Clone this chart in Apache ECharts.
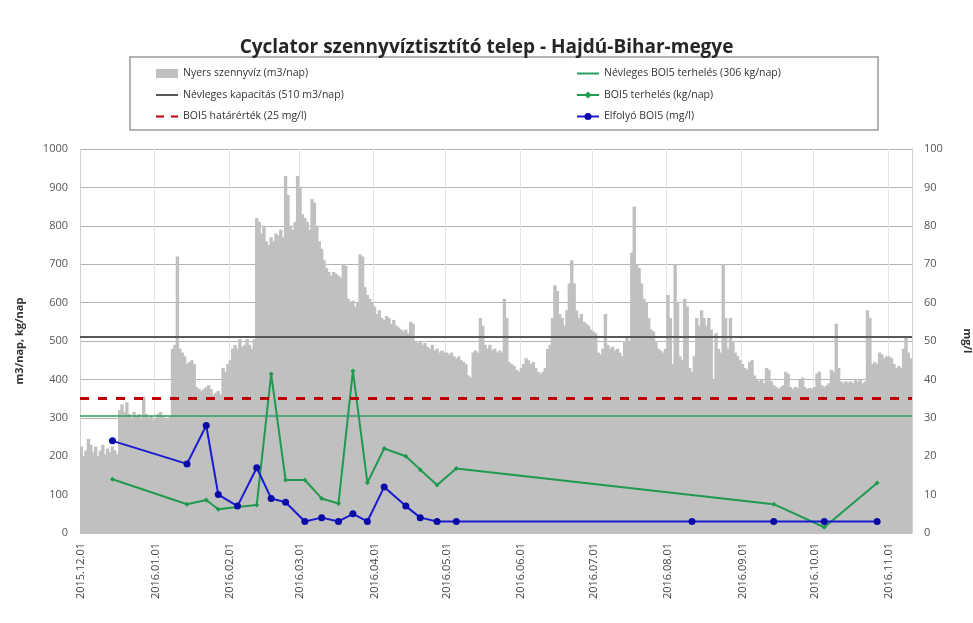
<!DOCTYPE html>
<html>
<head>
    <meta charset="UTF-8">
    <title>Cyclator szennyvíztisztító telep</title>
    <script src="https://cdn.jsdelivr.net/npm/echarts@6/dist/echarts.min.js"></script>
    <style>
        html, body { margin: 0; padding: 0; background: #fff; }
        #chart { width: 973px; height: 623px; }
    </style>
</head>
<body>
<div id="chart"></div>
<script type="text/javascript">
    // napi nyers szennyvíz (m3/nap), 2015.12.01 - 2016.11.10
    var dec = [225, 200, 215, 245, 230, 210, 225, 200, 215, 230, 205, 220, 210, 225, 215, 205,
        320, 335, 315, 340, 310, 300, 315, 305, 310, 300, 355, 310, 300, 305, 295];
    var jan = [300, 310, 315, 305, 300, 295, 305, 480, 490, 720, 480, 470, 460, 440, 445, 450,
        440, 380, 375, 370, 375, 380, 385, 375, 360, 365, 370, 360, 430, 420, 440];
    var feb = [450, 480, 490, 480, 505, 485, 490, 505, 490, 480, 505, 820, 810, 780, 800, 760,
        750, 770, 760, 780, 775, 790, 770, 930, 880, 800, 790, 810, 930];
    var mar = [900, 830, 820, 810, 790, 870, 860, 800, 760, 740, 710, 690, 680, 670, 680, 675,
        670, 665, 700, 695, 610, 600, 605, 590, 600, 725, 720, 640, 620, 610, 600];
    var apr = [590, 570, 580, 560, 555, 565, 560, 545, 555, 540, 535, 530, 525, 530, 520, 550,
        545, 500, 495, 500, 490, 495, 485, 480, 490, 475, 480, 470, 475, 470];
    var may = [470, 465, 470, 460, 455, 460, 450, 445, 440, 410, 405, 470, 475, 470, 560, 540,
        490, 480, 490, 475, 480, 470, 475, 470, 610, 560, 445, 440, 435, 425, 420];
    var jun = [430, 440, 455, 450, 440, 445, 430, 420, 415, 420, 430, 480, 490, 560, 645, 630,
        570, 560, 540, 580, 650, 710, 650, 580, 560, 570, 550, 545, 540, 530];
    var jul = [525, 520, 470, 465, 480, 570, 490, 480, 485, 475, 480, 470, 460, 500, 510, 500,
        730, 850, 700, 690, 650, 610, 600, 560, 530, 525, 500, 480, 475, 470, 480];
    var aug = [620, 560, 440, 700, 600, 460, 450, 610, 590, 430, 420, 460, 560, 540, 580, 560,
        540, 560, 530, 400, 520, 480, 470, 700, 560, 480, 560, 500, 470, 460, 450];
    var sep = [440, 430, 425, 445, 450, 410, 400, 395, 400, 390, 430, 425, 395, 385, 380, 375,
        380, 385, 420, 415, 380, 375, 380, 378, 400, 405, 380, 375, 378, 376];
    var oct = [380, 415, 420, 385, 380, 385, 390, 425, 420, 545, 430, 395, 390, 395, 392, 395,
        390, 398, 395, 400, 390, 395, 580, 560, 440, 445, 440, 470, 465, 455, 460];
    var nov = [460, 455, 440, 430, 435, 430, 480, 510, 470, 455];

    var nyersSzennyviz = [].concat(dec, jan, feb, mar, apr, may, jun, jul, aug, sep, oct, nov);

    // mérési napok
    var mintaNapok = ['2015-12-14', '2016-01-14', '2016-01-22', '2016-01-27', '2016-02-04', '2016-02-12',
        '2016-02-18', '2016-02-24', '2016-03-03', '2016-03-10', '2016-03-17', '2016-03-23', '2016-03-29',
        '2016-04-05', '2016-04-14', '2016-04-20', '2016-04-27', '2016-05-05', '2016-08-11', '2016-09-14',
        '2016-10-05', '2016-10-27'];
    var elfolyoBoi5 = [24, 18, 28, 10, 7, 17, 9, 8, 3, 4, 3, 5, 3, 12, 7, 4, 3, 3, 3, 3, 3, 3];

    var terhelesNapok = ['2015-12-14', '2016-01-14', '2016-01-22', '2016-01-27', '2016-02-04', '2016-02-12',
        '2016-02-18', '2016-02-24', '2016-03-03', '2016-03-10', '2016-03-17', '2016-03-23', '2016-03-29',
        '2016-04-05', '2016-04-14', '2016-04-20', '2016-04-27', '2016-05-05', '2016-09-14', '2016-10-05',
        '2016-10-27'];
    var boi5Terheles = [140, 75, 86, 62, 68, 73, 414, 138, 138, 90, 77, 422, 131, 220, 200, 165, 125, 168, 75, 15, 130];

    var nevlegesKapacitas = 510;
    var nevlegesTerheles = 306;
    var hatarertek = 35;

    var bal = [0, 1000, 100];
    var jobb = [0, 100, 10];

    // napok listája a kategória tengelyhez
    var napok = [];
    var start = Date.UTC(2015, 11, 1);
    for (var i = 0; i < nyersSzennyviz.length; i++) {
        var d = new Date(start + i * 86400000);
        var m = d.getUTCMonth() + 1, n = d.getUTCDate();
        napok.push(d.getUTCFullYear() + '-' + (m < 10 ? '0' + m : m) + '-' + (n < 10 ? '0' + n : n));
    }

    function zip(x, y) {
        return x.map(function (v, k) { return [v, y[k]]; });
    }

    function honapEleje(idx, value) {
        return value.slice(8) === '01';
    }

    var font = 'Open Sans';
    var rejtett = { opacity: 0 };
    var legendBase = {
        orient: 'vertical',
        top: 63,
        itemGap: 10.5,
        itemWidth: 22,
        itemHeight: 9,
        textStyle: { fontFamily: font, fontSize: 10.5, color: '#333' }
    };

    var myChart = echarts.init(document.getElementById('chart'));
    var option = {
        backgroundColor: '#fff',
        animation: false,
        textStyle: { fontFamily: font },
        title: {
            text: 'Cyclator szennyvíztisztító telep - Hajdú-Bihar-megye',
            left: 'center',
            top: 33,
            textStyle: { fontFamily: font, fontSize: 19, fontWeight: 'bold', color: '#262626' }
        },
        graphic: [{
            type: 'rect',
            shape: { x: 130, y: 57, width: 748, height: 73 },
            style: { fill: 'none', stroke: '#9a9a9a', lineWidth: 1.5 },
            silent: true
        }],
        legend: [Object.assign({}, legendBase, {
            left: 150,
            data: [
                { name: 'Nyers szennyvíz (m3/nap)', icon: 'rect' },
                { name: 'Névleges kapacitás (510 m3/nap)', itemStyle: rejtett },
                { name: 'BOI5 határérték (25 mg/l)', itemStyle: rejtett }
            ]
        }), Object.assign({}, legendBase, {
            left: 571,
            data: [
                { name: 'Névleges BOI5 terhelés (306 kg/nap)', itemStyle: rejtett },
                'BOI5 terhelés (kg/nap)',
                'Elfolyó BOI5 (mg/l)'
            ]
        })],
        grid: { left: 80, right: 61, top: 149, bottom: 90, outerBoundsMode: 'none' },
        xAxis: {
            type: 'category',
            data: napok,
            boundaryGap: true,
            axisLine: { show: true, lineStyle: { color: '#bfbfbf' } },
            axisTick: { show: false },
            axisLabel: {
                interval: honapEleje,
                rotate: 90,
                margin: 10,
                fontSize: 11,
                color: '#444',
                fontFamily: font,
                formatter: function (v) { return v.replace(/-/g, '.'); }
            },
            splitLine: {
                show: true,
                interval: honapEleje,
                lineStyle: { color: '#e4e4e4', width: 1 }
            }
        },
        yAxis: [{
            type: 'value',
            min: bal[0], max: bal[1], interval: bal[2],
            name: 'm3/nap, kg/nap',
            nameLocation: 'middle',
            nameGap: 55,
            nameTextStyle: { fontFamily: font, fontSize: 11, fontWeight: 'bold', color: '#333' },
            axisLine: { show: true, lineStyle: { color: '#d0d0d0' } },
            axisTick: { show: false },
            axisLabel: {
                fontSize: 11, color: '#555', fontFamily: font, margin: 12,
                formatter: function (v) { return String(v); }
            },
            splitLine: { show: true, lineStyle: { color: '#b3b3b3', width: 1 } }
        }, {
            type: 'value',
            min: jobb[0], max: jobb[1], interval: jobb[2],
            name: 'mg/l',
            nameLocation: 'middle',
            nameGap: 50,
            nameRotate: -90,
            nameTextStyle: { fontFamily: font, fontSize: 11, fontWeight: 'bold', color: '#333' },
            axisLine: { show: true, lineStyle: { color: '#d0d0d0' } },
            axisTick: { show: false },
            axisLabel: { fontSize: 11, color: '#555', fontFamily: font, margin: 12 },
            splitLine: { show: false }
        }],
        series: [{
            name: 'Nyers szennyvíz (m3/nap)',
            type: 'bar',
            data: nyersSzennyviz,
            barWidth: 3.4,
            itemStyle: { color: '#c0c0c0' },
            z: 1
        }, {
            name: 'Névleges kapacitás (510 m3/nap)',
            type: 'line',
            data: [],
            symbol: 'none',
            itemStyle: { color: '#595959' },
            lineStyle: { color: '#595959', width: 2 },
            markLine: {
                silent: true, symbol: 'none', label: { show: false },
                lineStyle: { color: '#595959', width: 2, type: 'solid' },
                data: [{ yAxis: nevlegesKapacitas }]
            },
            z: 3
        }, {
            name: 'BOI5 határérték (25 mg/l)',
            type: 'line',
            yAxisIndex: 1,
            data: [],
            symbol: 'none',
            itemStyle: { color: '#c00000' },
            lineStyle: { color: '#c00000', width: 3, type: [8, 7] },
            markLine: {
                silent: true, symbol: 'none', label: { show: false },
                lineStyle: { color: '#c00000', width: 3, type: [9, 9] },
                data: [{ yAxis: hatarertek }]
            },
            z: 3
        }, {
            name: 'Névleges BOI5 terhelés (306 kg/nap)',
            type: 'line',
            data: [],
            symbol: 'none',
            itemStyle: { color: '#28a060' },
            lineStyle: { color: '#28a060', width: 1.5 },
            markLine: {
                silent: true, symbol: 'none', label: { show: false },
                lineStyle: { color: '#28a060', width: 1.5, type: 'solid' },
                data: [{ yAxis: nevlegesTerheles }]
            },
            z: 3
        }, {
            name: 'BOI5 terhelés (kg/nap)',
            type: 'line',
            data: zip(terhelesNapok, boi5Terheles),
            showSymbol: true,
            showAllSymbol: true,
            symbol: 'diamond',
            symbolSize: 5,
            itemStyle: { color: '#1f9a4e' },
            lineStyle: { color: '#1f9a4e', width: 2 },
            z: 4
        }, {
            name: 'Elfolyó BOI5 (mg/l)',
            type: 'line',
            yAxisIndex: 1,
            data: zip(mintaNapok, elfolyoBoi5),
            showSymbol: true,
            showAllSymbol: true,
            symbol: 'circle',
            symbolSize: 7,
            itemStyle: { color: '#0a0aa8' },
            lineStyle: { color: '#1a1ad0', width: 2 },
            z: 5
        }]
    };

    option && myChart.setOption(option);
</script>
</body>
</html>
